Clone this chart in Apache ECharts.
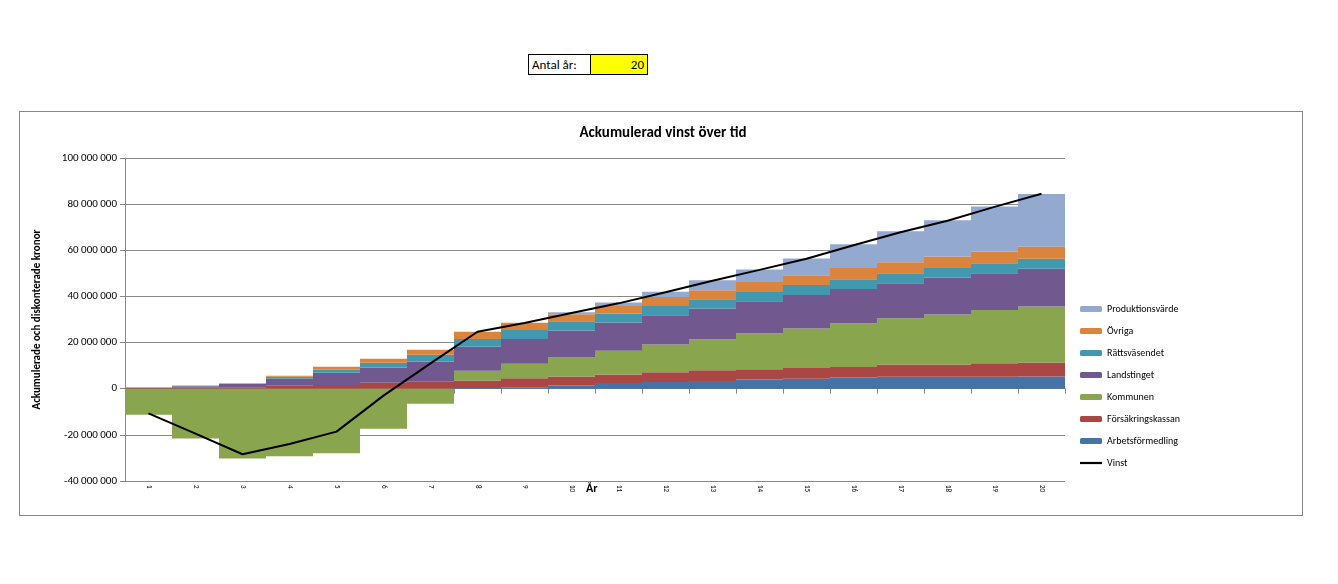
<!DOCTYPE html>
<html><head><meta charset="utf-8">
<script src="https://cdn.jsdelivr.net/npm/echarts@6/dist/echarts.min.js"></script>
<style>body{margin:0;background:#fff;font-family:Calibri,"Liberation Sans",Arial,sans-serif}
#box{position:absolute;left:528px;top:54px;width:118px;height:19px;border:1px solid #000;display:flex;font-size:13px}
#box .l{width:58px;border-right:1px solid #000;padding-left:3px;line-height:19px}
#box .r{flex:1;background:#ffff00;text-align:right;padding-right:3px;line-height:19px}
#frame{position:absolute;left:19px;top:111px;width:1282px;height:403px;border:1px solid #888}
#c{position:absolute;left:20px;top:112px;width:1281px;height:402px}
</style></head><body>
<div id="box"><div class="l">Antal år:</div><div class="r">20</div></div>
<div id="frame"></div><div id="c"></div>
<script>
const years=['1','2','3','4','5','6','7','8','9','10','11','12','13','14','15','16','17','18','19','20'];
const arbetsformedling=[0,0,0,0,0,0,0,0.3,0.6,1.4,2.5,2.9,3.3,4.0,4.3,4.9,5.2,5.2,5.2,5.3];
const forsakringskassan=[0.4,0.4,0.6,1.3,1.6,2.6,3.2,3.3,3.9,3.9,3.7,4.2,4.7,4.4,4.7,4.5,5.3,5.3,5.8,6.1];
const kommunen=[-11.3,-21.6,-30.3,-29.3,-28.0,-17.3,-6.5,4.2,6.3,8.2,10.3,12.1,13.4,15.6,17.1,19.0,20.0,21.7,23.1,24.2];
const landstinget=[0,0.7,1.4,3.0,5.3,6.6,8.6,10.4,10.8,11.7,12.2,12.6,13.4,13.9,14.5,14.8,15.2,16.0,16.0,16.4];
const rattsvasendet=[0,0.1,0.1,0.9,1.3,2.1,2.9,3.3,3.9,4.0,3.8,4.0,4.0,4.0,4.3,4.3,4.4,4.1,4.3,4.3];
const ovriga=[0.2,0.2,0.3,0.4,1.3,1.7,2.2,3.2,3.1,3.1,3.4,4.0,3.9,4.3,4.3,4.8,4.7,5.0,5.1,5.2];
const produktionsvarde=[0,0,0,0,0,0,0,0,0,0.8,1.5,2.2,4.3,5.5,7.2,10.3,13.4,15.7,19.5,22.9];
const vinst=[-10.7,-19.5,-28.4,-24.0,-18.6,-3.0,11.0,24.7,28.5,32.8,37.0,41.8,46.8,51.5,56.3,62.2,67.8,72.8,78.8,84.5];
const M=v=>v.map(x=>Math.round(x*1e6));
const fmt=v=>{const s=Math.abs(v).toString().replace(/\B(?=(\d{3})+(?!\d))/g,' ');return (v<0?'-':'')+s;};
const bar=(name,data,color)=>({name,type:'bar',stack:'s',data:M(data),itemStyle:{color},barCategoryGap:'0%',emphasis:{disabled:true}});
const chart=echarts.init(document.getElementById('c'));
chart.setOption({
 animation:false,
 textStyle:{fontFamily:'Calibri, "Liberation Sans", Arial, sans-serif'},
 title:{text:'Ackumulerad vinst över tid',left:638,top:9,textAlign:'center',textStyle:{fontSize:15,fontWeight:'bold',color:'#000'}},
 grid:{left:105,top:46,width:940,height:323,containLabel:false,outerBoundsMode:'none'},
 legend:{orient:'vertical',left:1055,top:187,itemGap:12,itemWidth:22,itemHeight:6,textStyle:{fontSize:10,color:'#000'},
  data:['Produktionsvärde','Övriga','Rättsväsendet','Landstinget','Kommunen','Försäkringskassan','Arbetsförmedling',{name:'Vinst',icon:'path://M0,0H10V1H0Z'}]},
 graphic:[{type:'text',left:566,top:371,style:{text:'År',font:'bold 12px Calibri, "Liberation Sans", Arial, sans-serif',fill:'#000'}}],
 xAxis:{type:'category',data:years,
  axisLine:{onZero:true,lineStyle:{color:'#888'}},axisTick:{show:true,lineStyle:{color:'#888'}},
  axisLabel:{rotate:-90,fontSize:7,color:'#000',margin:4}},
 yAxis:{type:'value',min:-40000000,max:100000000,interval:20000000,
  name:'Ackumulerade och diskonterade kronor',nameLocation:'middle',nameGap:82,
  nameTextStyle:{fontSize:11,fontWeight:'bold',color:'#000'},
  axisLine:{show:true,lineStyle:{color:'#888'}},axisTick:{show:true,lineStyle:{color:'#888'}},
  splitLine:{lineStyle:{color:'#888'}},
  axisLabel:{formatter:fmt,fontSize:11,color:'#000'}},
 series:[
  bar('Arbetsförmedling',arbetsformedling,'#4572A7'),
  bar('Försäkringskassan',forsakringskassan,'#AA4643'),
  bar('Kommunen',kommunen,'#89A54E'),
  bar('Landstinget',landstinget,'#71588F'),
  bar('Rättsväsendet',rattsvasendet,'#4198AF'),
  bar('Övriga',ovriga,'#DB843D'),
  bar('Produktionsvärde',produktionsvarde,'#93A9CF'),
  {name:'Vinst',type:'line',data:M(vinst),symbol:'none',lineStyle:{color:'#000',width:2},itemStyle:{color:'#000'},z:10}
 ]
});
</script></body></html>
